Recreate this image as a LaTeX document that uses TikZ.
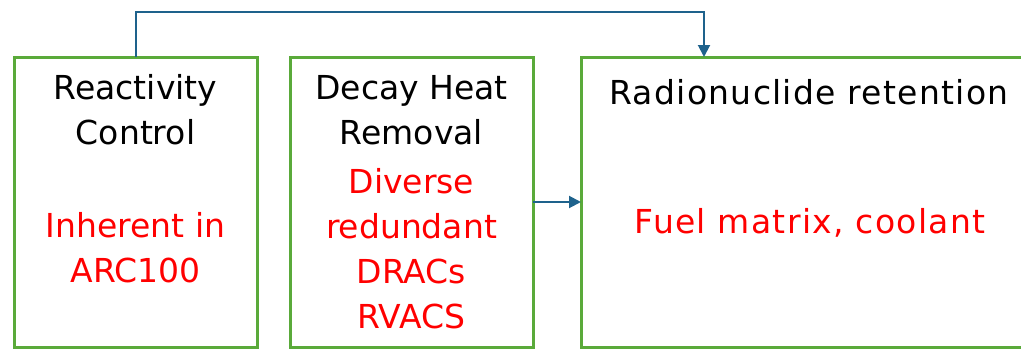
\documentclass[tikz,border=0pt]{standalone}
\usepackage{fontspec}
\setmainfont{DejaVu Sans}
\usetikzlibrary{arrows.meta,calc}
\definecolor{boxgreen}{RGB}{90,170,58}
\definecolor{linkblue}{RGB}{30,98,140}
\definecolor{notered}{RGB}{255,0,0}
\tikzset{
  box/.style={draw=boxgreen, line width=3pt, rectangle, inner sep=0pt, outer sep=0pt},
  head/.style={text=black, font=\fontsize{33}{45}\selectfont, align=center, inner sep=0pt},
  note/.style={text=notered, font=\fontsize{33}{45}\selectfont, align=center, inner sep=0pt},
  wide/.style={font=\fontsize{33}{45}\selectfont\addfontfeature{LetterSpace=4}},
  conn/.style={draw=linkblue, line width=2pt, -{Triangle[length=12pt,width=12pt]}},
}
\begin{document}
\begin{tikzpicture}[x=1pt,y=-1pt]
  \useasboundingbox (0,0) rectangle (1021,351);
  % three boxes
  \node[box, minimum width=243pt, minimum height=290pt] (b1) at (135.5,202) {};
  \node[box, minimum width=243pt, minimum height=290pt] (b2) at (411.5,202) {};
  \node[box, minimum width=445pt, minimum height=290pt] (b3) at (803.5,202) {};
  % headings
  \node[head] (h1) at (135.5,110) {Reactivity\\Control};
  \node[head] (h2) at (411.5,110) {Decay Heat\\Removal};
  \node[head, wide] (h3) at (809,92) {Radionuclide retention};
  % red notes
  \node[note] (n1) at (135.5,248) {Inherent in\\ARC100};
  \node[note] (n2) at (411.5,249) {Diverse\\redundant\\DRACs\\RVACS};
  \node[note, wide] (n3) at (810,223) {Fuel matrix, coolant};
  % connectors
  \draw[conn] (b1.north) -- ++(0,-45) -| ([xshift=123pt]b3.north west);
  \draw[conn] (b2.east) -- (b3.west);
\end{tikzpicture}
\end{document}
